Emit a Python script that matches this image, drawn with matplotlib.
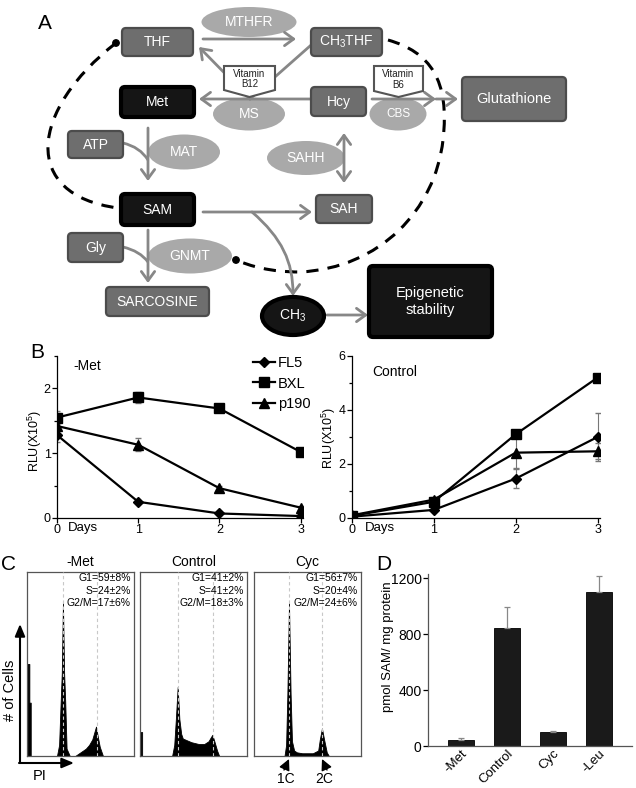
import matplotlib
matplotlib.use("Agg")
import matplotlib.pyplot as plt
import matplotlib.transforms as mtransforms
from matplotlib.patches import FancyBboxPatch, Ellipse, Polygon, FancyArrowPatch, PathPatch, Circle
from matplotlib.path import Path
from matplotlib.lines import Line2D

plt.rcParams["font.family"] = ["Liberation Sans", "DejaVu Sans"]
plt.rcParams["mathtext.fontset"] = "custom"
plt.rcParams["mathtext.rm"] = "Liberation Sans"
plt.rcParams["mathtext.it"] = "Liberation Sans:italic"

# ---- panel B data (RLU x10^5) ----
days = [0, 1, 2, 3]
met_fl5 = [1.28, 0.25, 0.07, 0.03]
met_bxl = [1.55, 1.86, 1.69, 1.02]
met_p190 = [1.42, 1.13, 0.46, 0.16]
met_fl5_err = [0.10, 0.02, 0.01, 0.01]
met_bxl_err = [0.10, 0.09, 0.05, 0.06]
met_p190_err = [0.05, 0.10, 0.03, 0.02]

ctrl_fl5 = [0.05, 0.30, 1.46, 3.00]
ctrl_bxl = [0.08, 0.60, 3.10, 5.20]
ctrl_p190 = [0.10, 0.68, 2.42, 2.47]
ctrl_fl5_err = [0.02, 0.05, 0.35, 0.88]
ctrl_bxl_err = [0.02, 0.05, 0.10, 0.05]
ctrl_p190_err = [0.02, 0.08, 0.55, 0.30]

# ---- panel C data (DNA content histograms, % of panel height) ----
hist_titles = ["-Met", "Control", "Cyc"]
hist_stats = [
    ["G1=59±8%", "S=24±2%", "G2/M=17±6%"],
    ["G1=41±2%", "S=41±2%", "G2/M=18±3%"],
    ["G1=56±7%", "S=20±4%", "G2/M=24±6%"],
]
met_pi = [0, 0.5, 0.5, 2.2, 2.2, 3.5, 3.5, 28, 30, 31.5, 32.5, 33.6, 34.7, 35.7,
          37, 40, 45, 50, 55, 58, 61, 63, 64.5, 66, 68, 71, 100]
met_cells = [0, 0, 50, 50, 29, 29, 0, 0, 6, 30, 45, 83, 45, 30,
             4, 0, 0, 2, 4, 6, 9, 13, 16, 11, 5, 0, 0]
ctrl_pi = [0, 0.5, 0.5, 2, 2, 30, 32, 33.5, 35.2, 36.8, 38.5, 40, 42, 48, 55, 60,
           64, 66, 67.6, 69.5, 72, 74, 100]
ctrl_cells = [0, 0, 13, 13, 0, 0, 6, 20, 37.5, 20, 12, 9.5, 9, 7.5, 6.5, 6.5,
              8, 10, 11.5, 8, 3, 0, 0]
cyc_pi = [0, 28.5, 30, 31.2, 32.7, 34.2, 35.5, 37.5, 40, 45, 55, 60, 61.5, 63.5,
          65.5, 68, 70, 100]
cyc_cells = [0, 0, 6, 34, 83, 34, 8, 3, 2, 1.5, 1.5, 3, 9, 15, 9, 2, 0, 0]
g1_pos = [33.6, 35.2, 32.7]
g2_pos = [65.0, 68.0, 63.5]

# ---- panel D data ----
conditions = ["-Met", "Control", "Cyc", "-Leu"]
sam_level = [40, 843, 100, 1100]
sam_err = [20, 150, 8, 115]

W, H = 636, 788
fig = plt.figure(figsize=(W / 100, H / 100), dpi=100)

# overlay in pixel coordinates (panel A diagram + free labels)
ov = fig.add_axes([0, 0, 1, 1], zorder=0)
ov.set_xlim(0, W)
ov.set_ylim(H, 0)
ov.axis("off")

GRAY_BOX = "#6e6e6e"
GRAY_EDGE = "#4c4c4c"
LIGHT = "#a9a9a9"
ARROW = "#878787"


def box(x0, y0, x1, y1, label, dark=False, fs=10):
    fc = "#151515" if dark else GRAY_BOX
    ec = "#000000" if dark else GRAY_EDGE
    lw = 3 if dark else 1.6
    ov.add_patch(FancyBboxPatch((x0, y0), x1 - x0, y1 - y0,
                                boxstyle="round,pad=0,rounding_size=4",
                                fc=fc, ec=ec, lw=lw, zorder=4))
    ov.text((x0 + x1) / 2, (y0 + y1) / 2, label, ha="center", va="center",
            color="white", fontsize=fs, zorder=5)


def oval(cx, cy, w, h, label, fs=10, dark=False):
    if dark:
        ov.add_patch(Ellipse((cx, cy), w, h, fc="#151515", ec="#000000", lw=3, zorder=4))
    else:
        ov.add_patch(Ellipse((cx, cy), w, h, fc=LIGHT, ec="none", zorder=2))
    ov.text(cx, cy, label, ha="center", va="center", color="white",
            fontsize=fs, zorder=5)


def arrow(p0, p1, style="->", z=3):
    ov.add_patch(FancyArrowPatch(p0, p1, arrowstyle=style + ",head_length=0.55,head_width=0.4",
                                 mutation_scale=12, color=ARROW, lw=2,
                                 shrinkA=0, shrinkB=0, zorder=z))


def vitamin(x0, x1, y0, y1, tip, label):
    xm = (x0 + x1) / 2
    ov.add_patch(Polygon([(x0, y0), (x1, y0), (x1, y1), (xm, tip), (x0, y1)],
                         closed=True, fc="white", ec="#555555", lw=1.5, zorder=6))
    ov.text(xm, (y0 + y1) / 2 + 1, label, ha="center", va="center",
            fontsize=7, color="#222222", linespacing=1.1, zorder=7)


# ---- Panel A ----
ov.text(45, 23, "A", fontsize=15, ha="center", va="center")

# dashed feedback loops
left_loop = Path([(116, 43), (30, 110), (20, 195), (118, 208)],
                 [Path.MOVETO, Path.CURVE4, Path.CURVE4, Path.CURVE4])
ov.add_patch(PathPatch(left_loop, fc="none", ec="black", lw=2.2,
                       ls=(0, (4, 3)), zorder=1))
right_loop = Path([(388, 40), (430, 52), (450, 80), (443, 140),
                   (435, 210), (380, 268), (300, 272),
                   (270, 272), (250, 266), (236, 260)],
                  [Path.MOVETO, Path.CURVE4, Path.CURVE4, Path.CURVE4,
                   Path.CURVE4, Path.CURVE4, Path.CURVE4,
                   Path.CURVE4, Path.CURVE4, Path.CURVE4])
ov.add_patch(PathPatch(right_loop, fc="none", ec="black", lw=2.2,
                       ls=(0, (4, 3)), zorder=1))
ov.add_patch(Circle((116, 43), 3.2, color="black", zorder=3))
ov.add_patch(Circle((236, 260), 3.2, color="black", zorder=3))

# ellipses (enzymes)
oval(249, 22, 95, 30, "MTHFR")
oval(249, 114, 72, 33, "MS")
oval(398, 114, 57, 33, "CBS", fs=8.5)
oval(184, 152, 72, 35, "MAT")
oval(306, 158, 78, 34, "SAHH")
oval(190, 256, 84, 35, "GNMT")

# arrows
arrow((203, 39), (296, 39))
ov.plot([310, 250], [46, 99], color=ARROW, lw=2, zorder=3)
arrow((250, 99), (199, 47))
arrow((310, 99), (199, 99))
arrow((372, 99), (436, 99))
arrow((436, 99), (458, 99))
arrow((148, 128), (148, 181))
ov.add_patch(PathPatch(Path([(123, 143), (140, 147), (148, 160)],
                            [Path.MOVETO, Path.CURVE3, Path.CURVE3]),
                       fc="none", ec=ARROW, lw=2, zorder=3))
arrow((344, 133), (344, 183), style="<->")
arrow((203, 212), (312, 212))
ov.add_patch(FancyArrowPatch(path=Path([(252, 212), (282, 238), (293, 262), (293, 296)],
                                       [Path.MOVETO, Path.CURVE4, Path.CURVE4, Path.CURVE4]),
                             arrowstyle="->,head_length=0.55,head_width=0.4",
                             mutation_scale=12, color=ARROW, lw=2, zorder=3))
arrow((148, 230), (148, 283))
ov.add_patch(PathPatch(Path([(123, 247), (140, 251), (148, 262)],
                            [Path.MOVETO, Path.CURVE3, Path.CURVE3]),
                       fc="none", ec=ARROW, lw=2, zorder=3))
arrow((327, 315), (368, 315))

# boxes (metabolites)
box(122, 28, 193, 56, "THF")
box(311, 28, 382, 56, "CH$_3$THF")
box(121, 87, 194, 117, "Met", dark=True)
box(311, 87, 366, 116, "Hcy")
box(462, 77, 566, 121, "Glutathione", fs=10.5)
box(68, 131, 123, 158, "ATP")
box(121, 194, 194, 225, "SAM", dark=True)
box(316, 195, 372, 223, "SAH")
box(68, 233, 123, 262, "Gly")
box(106, 287, 209, 316, "SARCOSINE")
oval(293, 316, 62, 38, "CH$_3$", dark=True)
box(369, 266, 492, 337, "Epigenetic\nstability", dark=True, fs=10.5)

vitamin(224, 275, 66, 90, 97, "Vitamin\nB12")
vitamin(374, 423, 66, 91, 97, "Vitamin\nB6")


# ---- Panel B ----
def px_axes(x0, y0, x1, y1):
    return fig.add_axes([x0 / W, 1 - y1 / H, (x1 - x0) / W, (y1 - y0) / H], zorder=2)


def style_line_axes(ax):
    ax.set_facecolor("none")
    for s in ["top", "right"]:
        ax.spines[s].set_visible(False)
    for s in ["left", "bottom"]:
        ax.spines[s].set_linewidth(0.9)
    ax.tick_params(direction="out", length=3.5, width=0.9, labelsize=9, pad=1)
    ax.tick_params(which="minor", direction="out", length=2.5, width=0.9)
    ax.set_xticks(days)
    ax.set_xlim(0, 3.03)


series_style = [("FL5", "D", 5), ("BXL", "s", 6.5), ("p190", "^", 6.5)]

axL = px_axes(57, 356, 303, 518)
style_line_axes(axL)
for (lab, mk, ms), vals, err in zip(series_style,
                                    [met_fl5, met_bxl, met_p190],
                                    [met_fl5_err, met_bxl_err, met_p190_err]):
    axL.errorbar(days, vals, yerr=err, color="black", ecolor="#777777",
                 elinewidth=0.8, capsize=2, lw=1.6, marker=mk, ms=ms, label=lab)
axL.set_ylim(0, 2.5)
axL.set_yticks([0, 1, 2])
axL.set_yticks([0.5, 1.5, 2.5], minor=True)

axR = px_axes(352, 356, 600, 518)
style_line_axes(axR)
for (lab, mk, ms), vals, err in zip(series_style,
                                    [ctrl_fl5, ctrl_bxl, ctrl_p190],
                                    [ctrl_fl5_err, ctrl_bxl_err, ctrl_p190_err]):
    axR.errorbar(days, vals, yerr=err, color="black", ecolor="#777777",
                 elinewidth=0.8, capsize=2, lw=1.6, marker=mk, ms=ms, label=lab)
axR.set_ylim(0, 6)
axR.set_yticks([0, 2, 4, 6])
axR.set_yticks([1, 3, 5], minor=True)

handles = [Line2D([], [], color="black", lw=1.6, marker=mk, ms=ms)
           for _, mk, ms in series_style]
fig.legend(handles, [s[0] for s in series_style], loc="upper left",
           bbox_to_anchor=(253 / W, 1 - 356 / H), frameon=False, fontsize=10.5,
           handlelength=1.5, handletextpad=0.2, labelspacing=0.45,
           borderpad=0, borderaxespad=0)

ov.text(37, 352, "B", fontsize=15, ha="center", va="center")
ov.text(73, 366, "-Met", fontsize=10, ha="left", va="center")
ov.text(372, 372, "Control", fontsize=10, ha="left", va="center")
ov.text(68, 528, "Days", fontsize=9.5, ha="left", va="center")
ov.text(365, 528, "Days", fontsize=9.5, ha="left", va="center")
ov.text(35, 441, "RLU(X10$^5$)", fontsize=9, rotation=90, ha="center", va="center")
ov.text(329, 438, "RLU(X10$^5$)", fontsize=9, rotation=90, ha="center", va="center")

# ---- Panel C ----
hist_x = [met_pi, ctrl_pi, cyc_pi]
hist_y = [met_cells, ctrl_cells, cyc_cells]
lefts = [27, 140, 254]
for i in range(3):
    ax = px_axes(lefts[i], 572, lefts[i] + 107, 756)
    ax.set_facecolor("none")
    ax.fill_between(hist_x[i], hist_y[i], 0, color="black", lw=0.6, zorder=2)
    for xp in (g1_pos[i], g2_pos[i]):
        ax.axvline(xp, color="#c8c8c8", lw=0.8, ls=(0, (3, 2.5)), zorder=3)
    ax.set_xlim(0, 100)
    ax.set_ylim(0, 100)
    ax.set_xticks([])
    ax.set_yticks([])
    for s in ax.spines.values():
        s.set_color("#555555")
        s.set_linewidth(0.9)
    for j, t in enumerate(hist_stats[i]):
        ax.text(97, 96.7 - 6.8 * j, t, ha="right", va="center", fontsize=7.5, zorder=4)
    ov.text(lefts[i] + 53.5, 562, hist_titles[i], ha="center", va="center", fontsize=10)

ov.text(8, 565, "C", fontsize=15, ha="center", va="center")
ov.annotate("", xy=(20, 624), xytext=(20, 763),
            arrowprops=dict(arrowstyle="-|>,head_length=0.6,head_width=0.25",
                            color="black", lw=1.5, mutation_scale=12, shrinkA=0, shrinkB=0))
ov.annotate("", xy=(74, 763), xytext=(19, 763),
            arrowprops=dict(arrowstyle="-|>,head_length=0.6,head_width=0.25",
                            color="black", lw=1.5, mutation_scale=12, shrinkA=0, shrinkB=0))
ov.text(10, 690, "# of Cells", rotation=90, fontsize=10.5, ha="center", va="center")
ov.text(40, 776, "PI", fontsize=10.5, ha="center", va="center")
ov.annotate("", xy=(289, 759), xytext=(284, 770),
            arrowprops=dict(arrowstyle="-|>,head_length=0.6,head_width=0.3",
                            color="black", lw=1, mutation_scale=11, shrinkA=0, shrinkB=0))
ov.annotate("", xy=(322, 759), xytext=(327, 770),
            arrowprops=dict(arrowstyle="-|>,head_length=0.6,head_width=0.3",
                            color="black", lw=1, mutation_scale=11, shrinkA=0, shrinkB=0))
ov.text(286, 779, "1C", fontsize=10, ha="center", va="center")
ov.text(324, 779, "2C", fontsize=10, ha="center", va="center")

# ---- Panel D ----
axD = px_axes(428, 574, 632, 746)
axD.set_facecolor("none")
xpos = range(len(conditions))
axD.bar(xpos, sam_level, width=0.57, color="#1a1a1a", edgecolor="black", lw=0.6,
        yerr=[[0] * len(sam_err), sam_err], ecolor="#888888",
        error_kw=dict(elinewidth=0.9, capsize=2.5, capthick=0.9))
axD.set_xlim(-0.72, 3.72)
axD.set_ylim(0, 1230)
axD.set_yticks([0, 400, 800, 1200])
axD.set_xticks(list(xpos))
axD.set_xticklabels(conditions, rotation=45, ha="right", rotation_mode="anchor",
                    fontsize=9.5)
shift = mtransforms.ScaledTranslation(5 / 100, 3 / 100, fig.dpi_scale_trans)
for lbl in axD.get_xticklabels():
    lbl.set_transform(lbl.get_transform() + shift)
for s in ["top", "right"]:
    axD.spines[s].set_visible(False)
for s in ["left", "bottom"]:
    axD.spines[s].set_linewidth(0.9)
    axD.spines[s].set_color("#555555")
axD.tick_params(axis="y", direction="out", length=3.5, width=0.9, labelsize=10, pad=1)
axD.tick_params(axis="x", length=0, pad=1)
ov.text(384, 565, "D", fontsize=15, ha="center", va="center")
ov.text(388, 647, "pmol SAM/ mg protein", fontsize=9.5, rotation=90,
        ha="center", va="center")

fig.savefig("out.png", dpi=100)
